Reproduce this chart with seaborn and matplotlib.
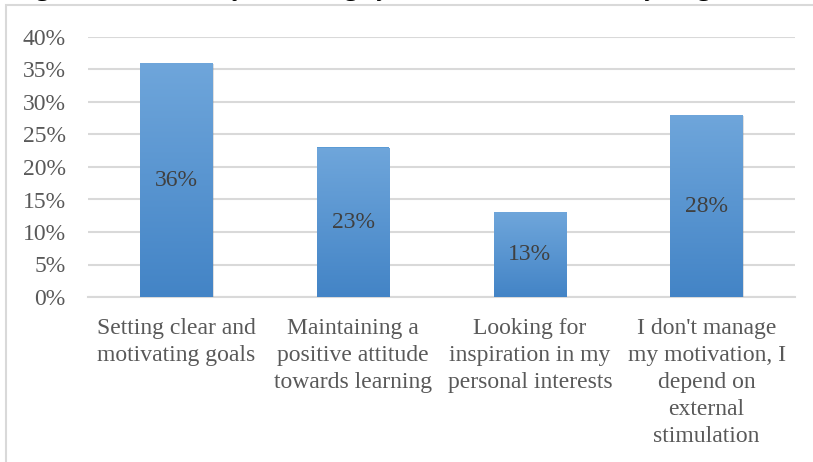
import numpy as np
import pandas as pd
import matplotlib
matplotlib.use("Agg")
import matplotlib.pyplot as plt
import matplotlib.patheffects as pe
import seaborn as sns
from matplotlib.colors import LinearSegmentedColormap
from matplotlib.patches import Rectangle
from matplotlib.ticker import FuncFormatter

# Survey answers: "How do you manage your motivation to study English?"
categories = [
    "Setting clear and\nmotivating goals",
    "Maintaining a\npositive attitude\ntowards learning",
    "Looking for\ninspiration in my\npersonal interests",
    "I don't manage\nmy motivation, I\ndepend on\nexternal\nstimulation",
]
shares = [36, 23, 13, 28]
value_labels = ["36%", "23%", "13%", "28%"]
y_ticks = [0, 5, 10, 15, 20, 25, 30, 35, 40]

title = "Figure 10: How do you manage your motivation to study English?"

df = pd.DataFrame({"answer": categories, "share": shares})

sns.set_style("white")
plt.rcParams["font.family"] = ["Liberation Serif", "DejaVu Serif"]

fig = plt.figure(figsize=(8.13, 4.62), dpi=100)
ax = fig.add_axes([88 / 813, 165 / 462, 707 / 813, 260 / 462])

sns.barplot(data=df, x="answer", y="share", color="#5b9bd5", width=0.41,
            saturation=1, ax=ax, zorder=3)

# vertical blue gradient inside each bar, like the office chart fill
grad = LinearSegmentedColormap.from_list("bar_grad", ["#4384c6", "#6fa6db"])
ramp = np.linspace(0, 1, 256).reshape(-1, 1)
for patch in ax.patches:
    x0, y0 = patch.get_x(), patch.get_y()
    w, h = patch.get_width(), patch.get_height()
    patch.set_edgecolor("none")
    patch.set_path_effects([pe.SimplePatchShadow(offset=(0.8, -0.8), alpha=0.25,
                                                 shadow_rgbFace="#808080"),
                            pe.Normal()])
    img = ax.imshow(ramp, cmap=grad, origin="lower", aspect="auto",
                    extent=[x0, x0 + w, y0, y0 + h], zorder=3.5)
    img.set_clip_path(patch)

ax.set_xlim(-0.5, 3.5)
ax.set_ylim(0, 40)
ax.set_yticks(y_ticks)
ax.yaxis.set_major_formatter(FuncFormatter(lambda v, _: f"{v:.0f}%"))
ax.grid(axis="y", color="#d9d9d9", linewidth=1.5, zorder=0)
ax.set_axisbelow(True)
for side in ["top", "right", "left"]:
    ax.spines[side].set_visible(False)
ax.spines["bottom"].set_color("#d9d9d9")
ax.spines["bottom"].set_linewidth(1.5)
ax.tick_params(axis="both", length=0, labelsize=17, labelcolor="#595959")
ax.tick_params(axis="y", pad=16)
ax.tick_params(axis="x", pad=15)
for lbl in ax.get_xticklabels():
    lbl.set_linespacing(1.38)
ax.set_xlabel("")
ax.set_ylabel("")

for i, (v, txt) in enumerate(zip(shares, value_labels)):
    ax.text(i, v / 2, txt, ha="center", va="center", fontsize=17,
            color="#404040", zorder=5)

# chart frame and the caption above it, cut by the top edge as in the source
fig.patches.append(Rectangle((5.5 / 813, -0.1), 1.2, (456.5 / 462) + 0.1,
                             transform=fig.transFigure, fill=False,
                             edgecolor="#d9d9d9", linewidth=1.5))
fig.text(0.015, 1 + 5.3 / 462, title, ha="left", va="baseline",
         fontsize=19.3, fontweight="bold", color="black")

fig.savefig("out.png", dpi=100)
